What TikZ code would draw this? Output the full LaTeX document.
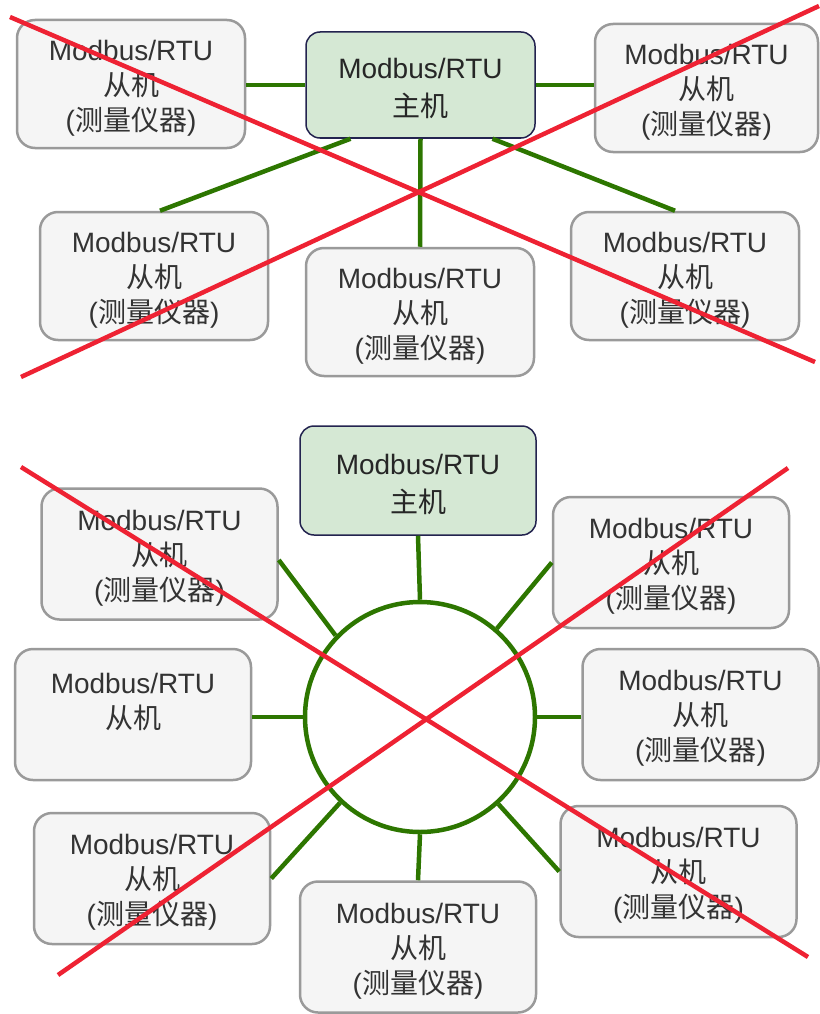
\documentclass[tikz,border=0pt]{standalone}
\usepackage{fontspec}
\setmainfont{Liberation Sans}
\newfontfamily\cjkfont{Noto Sans CJK SC}
\newcommand{\zhs}[1]{{\cjkfont #1}}
\newcommand{\mbrtu}{\raisebox{0pt}[28pt][0pt]{Modbus/RTU}}
\definecolor{linkgreen}{HTML}{2D7600}
\definecolor{crossred}{HTML}{EE2233}
\definecolor{slavefill}{HTML}{F5F5F5}
\definecolor{slavedraw}{HTML}{9A9A9A}
\definecolor{masterfill}{HTML}{D5E8D4}
\definecolor{masterdraw}{HTML}{23234F}
\definecolor{slavetext}{HTML}{333333}
\tikzset{
    nodebox/.style={rectangle,align=center,inner sep=0pt},
    slave/.style={nodebox,font=\fontsize{28}{35}\selectfont,
        rounded corners=18pt,draw=slavedraw,fill=slavefill,
        text=slavetext,line width=2.5pt,minimum width=236pt,minimum height=131pt},
    topslave/.style={slave,minimum width=228pt,minimum height=128pt},
    master/.style={nodebox,font=\fontsize{28}{38}\selectfont,
        rounded corners=14pt,draw=masterdraw,fill=masterfill,
        text=black!85,line width=1.5pt,minimum width=236pt,minimum height=109pt},
    bus/.style={circle,draw=linkgreen,line width=4.5pt,minimum size=230pt,inner sep=0pt},
    link/.style={draw=linkgreen,line width=4.5pt},
    crossline/.style={draw=crossred,line width=4.5pt}}

\newcommand{\slavetext}{\mbrtu\\\zhs{从机}\\(\zhs{测量仪器})}

\begin{document}
\begin{tikzpicture}[x=1pt,y=-1pt]
\useasboundingbox (0,0) rectangle (819,1014);

% star wiring
\node[master,minimum width=229pt,minimum height=106pt] (m1) at (420.5,85) {\mbrtu\\\zhs{主机}};
\node[topslave] (s1) at (131,84) {\slavetext};
\node[topslave,minimum width=223pt] (s2) at (706.5,88) {\slavetext};
\node[topslave] (s3) at (154,276) {\slavetext};
\node[topslave] (s4) at (420,312) {\slavetext};
\node[topslave] (s5) at (685,276) {\slavetext};
\path[link]
	(m1.west)	edge 	[] 	(m1.west -| s1.east)
	(m1.east)	edge 	[] 	(m1.east -| s2.west)
	([xshift=-70pt]m1.south)	edge 	[] 	([xshift=6pt]s3.north)
	(m1.south)	edge 	[] 	(s4.north)
	([xshift=72pt]m1.south)	edge 	[] 	([xshift=-10pt]s5.north);

% ring wiring
\node[master] (m2) at (418,480.5) {\mbrtu\\\zhs{主机}};
\node[bus] (ring) at (420,717) {};
\node[slave] (b1) at (159.5,554) {\slavetext};
\node[slave] (b2) at (671,562.5) {\slavetext};
\node[slave] (b3) at (133,714.5) {\mbrtu\\\zhs{从机}\\~};
\node[slave] (b4) at (700.5,714.5) {\slavetext};
\node[slave] (b5) at (152,878.5) {\slavetext};
\node[slave] (b6) at (678.5,871.5) {\slavetext};
\node[slave] (b7) at (418,947) {\slavetext};
\path[link]
	(m2.south)	edge 	[] 	(ring.north)
	(ring.136)	edge 	[] 	([yshift=-6pt]b1.east)
	(ring.49)	edge 	[] 	(b2.west)
	(ring.west)	edge 	[] 	(ring.west -| b3.east)
	(ring.east)	edge 	[] 	(ring.east -| b4.west)
	(ring.227)	edge 	[] 	(b5.east)
	(ring.312)	edge 	[] 	(b6.west)
	(ring.south)	edge 	[] 	(b7.north);

% crossed out
\coordinate (x1) at (10,17);
\coordinate (x2) at (815,362);
\coordinate (x3) at (21,377);
\coordinate (x4) at (819,6);
\coordinate (y1) at (21,467);
\coordinate (y2) at (808,957);
\coordinate (y3) at (58,975);
\coordinate (y4) at (788,468);
\draw[crossline] (x1) -- (x2);
\draw[crossline] (x3) -- (x4);
\draw[crossline] (y1) -- (y2);
\draw[crossline] (y3) -- (y4);
\end{tikzpicture}
\end{document}
